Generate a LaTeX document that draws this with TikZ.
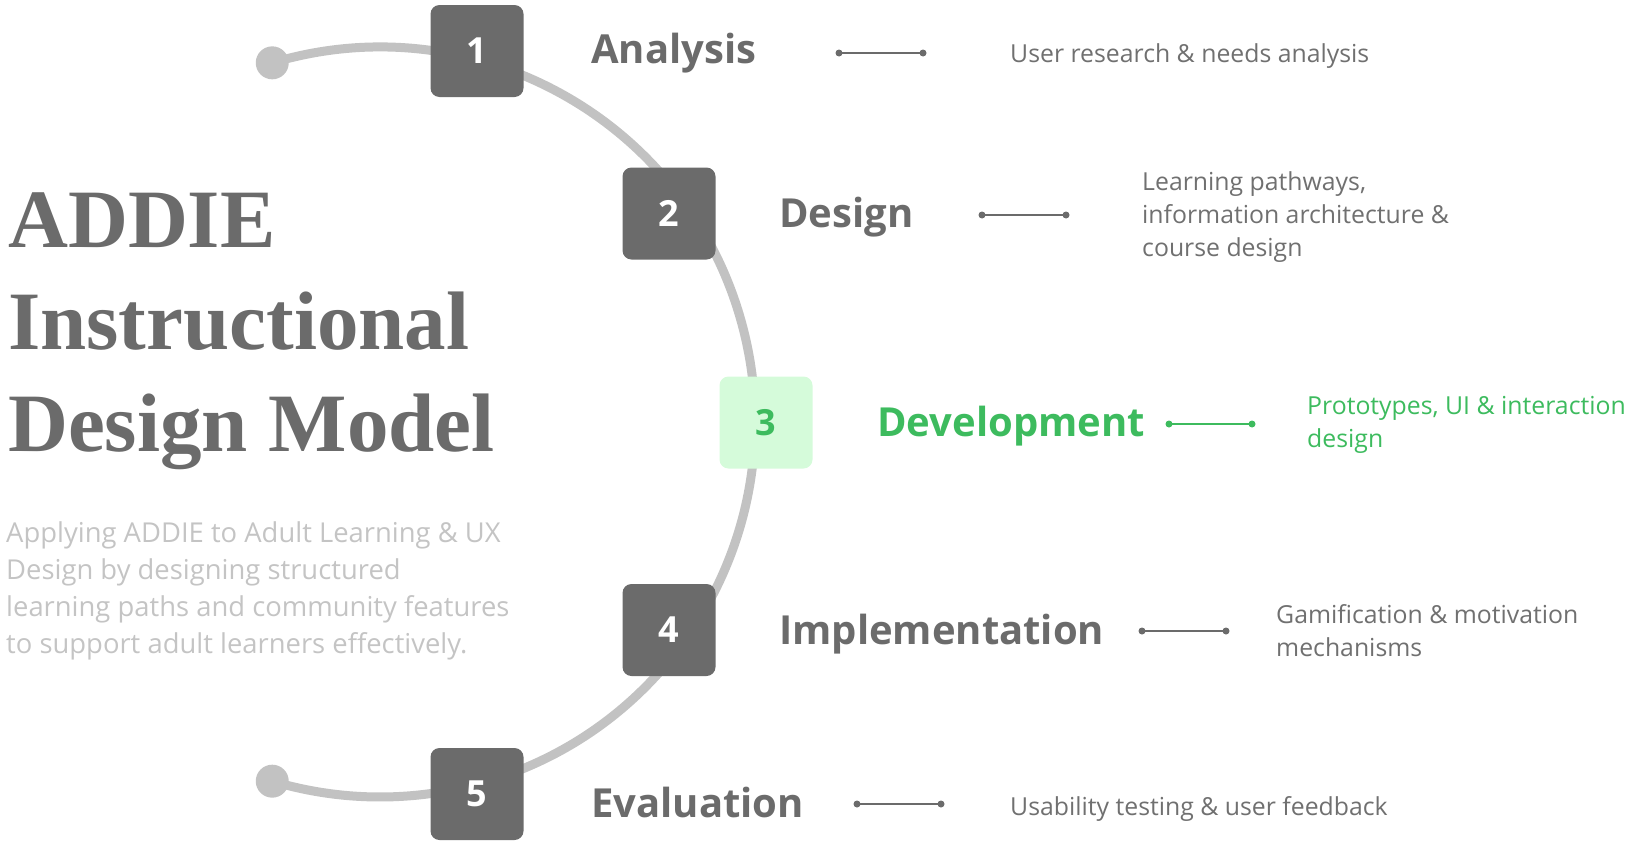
\documentclass[tikz,border=0pt]{standalone}
\usepackage{fontspec}
\setmainfont{Open Sans}
\newfontfamily\titlefont{Liberation Serif}
\usetikzlibrary{calc}
\definecolor{boxgray}{HTML}{6B6B6B}
\definecolor{arcgray}{HTML}{C2C2C2}
\definecolor{txtgray}{HTML}{6B6B6B}
\definecolor{descgray}{HTML}{707070}
\definecolor{subgray}{HTML}{C4C4C4}
\definecolor{devgreen}{HTML}{3DBB5E}
\definecolor{greenfill}{HTML}{D5FBDA}
\begin{document}
\begin{tikzpicture}[x=1pt,y=-1pt,
  stepbox/.style={rounded corners=9pt, minimum width=93pt, minimum height=92pt,
    fill=boxgray, text=white, inner sep=0pt,
    font=\bfseries\fontsize{36}{36}\selectfont},
  phase/.style={anchor=base west, text=txtgray, inner sep=0pt,
    font=\bfseries\fontsize{40}{40}\selectfont},
  desc/.style={anchor=base west, text=descgray, inner sep=0pt, align=left,
    font=\fontsize{24.8}{33}\selectfont},
  title/.style={anchor=base west, inner sep=0pt, text=txtgray,
    font=\titlefont\bfseries\fontsize{83}{83}\selectfont},
  link/.style={draw=boxgray, line width=2pt},
  linkdot/.style={fill=boxgray},
  ring/.style={draw=arcgray, line width=9pt},
]
\useasboundingbox (0,0) rectangle (1629,846);

% ring
\coordinate (C) at (380,422);
\coordinate (d1) at ($(C)+(-106.7:375)$);
\coordinate (d2) at ($(C)+(106.7:375)$);
\draw[ring] (d1) arc[start angle=-106.7, end angle=106.7, radius=375];
\fill[arcgray] (d1) circle[radius=16.5];
\fill[arcgray] (d2) circle[radius=16.5];

% boxes
\node[stepbox] (b1) at (477,51) {1};
\node[stepbox] (b2) at (669,213.5) {2};
\node[stepbox, fill=greenfill, text=devgreen] (b3) at (766,422.5) {3};
\node[stepbox] (b4) at (669,630) {4};
\node[stepbox] (b5) at (477,794) {5};

% title
\node[title] (t1) at (8,247) {ADDIE};
\node[title] (t2) at (8,349) {Instructional};
\node[title] (t3) at (8,451) {Design Model};

% subtitle (base = last line)
\node[anchor=base west, inner sep=0pt, text=subgray, align=left, font=\fontsize{27.4}{37}\selectfont] (sub) at (6,653)
  {Applying ADDIE to Adult Learning \& UX\\Design by designing structured\\learning paths and community features\\to support adult learners effectively.};

% phase labels
\node[phase] (p1) at (591,63) {Analysis};
\node[phase] (p2) at (779,227) {Design};
\node[phase, text=devgreen] (p3) at (877,436) {Development};
\node[phase] (p4) at (779,644) {Implementation};
\node[phase] (p5) at (591,817) {Evaluation};

% link lines
\coordinate (l1a) at (839,53);   \coordinate (l1b) at (923,53);
\coordinate (l2a) at (982,215);  \coordinate (l2b) at (1066,215);
\coordinate (l3a) at (1169,424); \coordinate (l3b) at (1252,424);
\coordinate (l4a) at (1142,631); \coordinate (l4b) at (1226,631);
\coordinate (l5a) at (857,804);  \coordinate (l5b) at (941,804);
\foreach \i in {1,2,4,5}{
  \draw[link] (l\i a) -- (l\i b);
  \fill[linkdot] (l\i a) circle[radius=3.5];
  \fill[linkdot] (l\i b) circle[radius=3.5];
}
\draw[link, draw=devgreen] (l3a) -- (l3b);
\fill[devgreen] (l3a) circle[radius=3.5];
\fill[devgreen] (l3b) circle[radius=3.5];

% descriptions (base = last line)
\node[desc] (e1) at (1010,62) {User research \& needs analysis};
\node[desc] (e2) at (1142,256) {Learning pathways,\\information architecture \&\\course design};
\node[desc, text=devgreen] (e3) at (1307,447) {Prototypes, UI \& interaction\\design};
\node[desc] (e4) at (1276,656) {Gamification \& motivation\\mechanisms};
\node[desc] (e5) at (1010,815) {Usability testing \& user feedback};
\end{tikzpicture}
\end{document}
